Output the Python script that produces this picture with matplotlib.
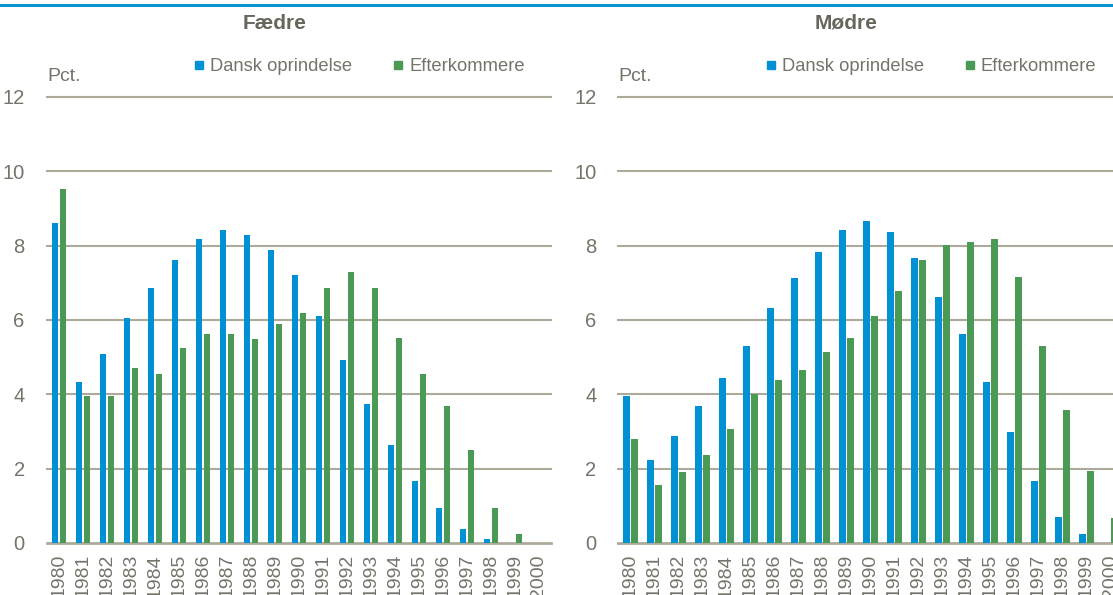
import numpy as np
import matplotlib
matplotlib.use("Agg")
import matplotlib.pyplot as plt
from matplotlib.lines import Line2D

plt.rcParams['font.family'] = ['Liberation Sans', 'DejaVu Sans']

years = [str(y) for y in range(1980, 2001)]

# Fædre
far_dansk = [8.62, 4.32, 5.08, 6.05, 6.86, 7.61, 8.19, 8.41, 8.30, 7.87, 7.22,
             6.10, 4.92, 3.73, 2.65, 1.68, 0.93, 0.39, 0.12, 0.0, 0.0]
far_efter = [9.53, 3.95, 3.95, 4.70, 4.54, 5.24, 5.62, 5.62, 5.50, 5.89, 6.20,
             6.86, 7.28, 6.86, 5.51, 4.54, 3.68, 2.49, 0.93, 0.23, 0.0]

# Mødre
mor_dansk = [3.95, 2.22, 2.87, 3.68, 4.43, 5.29, 6.32, 7.13, 7.82, 8.41, 8.67,
             8.36, 7.66, 6.63, 5.62, 4.32, 2.98, 1.68, 0.71, 0.23, 0.0]
mor_efter = [2.81, 1.57, 1.90, 2.38, 3.08, 4.00, 4.38, 4.65, 5.13, 5.51, 6.10,
             6.79, 7.61, 8.03, 8.09, 8.19, 7.17, 5.29, 3.57, 1.95, 0.66]

titles = ['Fædre', 'Mødre']
series_names = ['Dansk oprindelse', 'Efterkommere']
yticks = [0, 2, 4, 6, 8, 10, 12]

BLUE = '#0090D4'
GREEN = '#4A9A55'
GRID = '#ADAA9C'
TXT = '#74746A'
TITLE = '#66665C'

fig = plt.figure(figsize=(11.13, 5.95), dpi=100)

# blue rule along the top
fig.add_artist(Line2D([0, 1], [0.991, 0.991], color='#0A93D3', lw=2.2,
                      transform=fig.transFigure))

panels = [(far_dansk, far_efter), (mor_dansk, mor_efter)]
lefts = [0.0422, 0.5557]

for k, (dansk, efter) in enumerate(panels):
    ax = fig.add_axes([lefts[k], 0.0874, 0.4528, 0.7496])
    x = np.arange(len(years))
    w = 0.26
    ax.bar(x - 0.165, dansk, w, color=BLUE, zorder=3)
    ax.bar(x + 0.165, efter, w, color=GREEN, zorder=3)

    ax.set_xlim(-0.5, len(years) - 0.5)
    ax.set_ylim(0, 12)
    ax.set_yticks(yticks)
    for t in yticks:
        ax.axhline(t, color=GRID, lw=1.5 if t else 2.0, zorder=1, clip_on=False)
    for s in ax.spines.values():
        s.set_visible(False)

    ax.set_xticks(x)
    ax.set_xticklabels(years, rotation=90, fontsize=14, color=TXT)
    ax.tick_params(axis='x', length=0, pad=8)
    ax.tick_params(axis='y', length=0, pad=16, labelsize=14.5, labelcolor=TXT)

    ax.text(0.0, 1.045, 'Pct.', transform=ax.transAxes, fontsize=14,
            color=TXT, ha='left', va='center')
    ax.text(0.452, 1.165, titles[k], transform=ax.transAxes, fontsize=15,
            fontweight='bold', color=TITLE, ha='center', va='center')

    handles = [Line2D([], [], marker='s', ls='', color=BLUE, markersize=5.5),
               Line2D([], [], marker='s', ls='', color=GREEN, markersize=5.5)]
    ax.legend(handles, series_names, ncol=2, frameon=False, fontsize=13.2,
              labelcolor=TXT, loc='center', bbox_to_anchor=(0.62, 1.068),
              handlelength=0.6, handletextpad=0.3, columnspacing=2.2,
              borderaxespad=0)

fig.savefig('out.png', dpi=100)
